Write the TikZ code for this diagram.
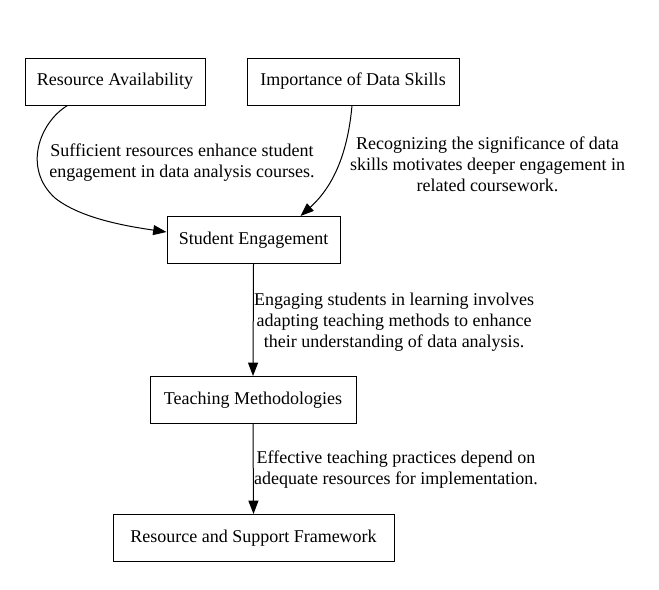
\documentclass[tikz,border=0pt]{standalone}
\usepackage{fontspec}
\setmainfont{Liberation Serif}
\usetikzlibrary{arrows.meta,calc}
\begin{document}
\begin{tikzpicture}[x=0.75pt,y=-0.75pt,
  box/.style={draw,line width=0.75pt,inner sep=0pt,minimum height=47*0.75pt,font=\fontsize{13.5}{15.75}\selectfont},
  lbl/.style={align=center,inner sep=0pt,font=\fontsize{13.5}{15.75}\selectfont},
  edge/.style={line width=0.75pt,-{Triangle[length=10pt,width=7.5pt]}}]
\useasboundingbox (0,0) rectangle (659,589);
\node[box,minimum width=180*0.75pt] (ra) at (115,81.5) {Resource Availability};
\node[box,minimum width=212*0.75pt] (ids) at (353,81.5) {Importance of Data Skills};
\node[box,minimum width=173*0.75pt] (se) at (253.5,240) {Student Engagement};
\node[box,minimum width=206*0.75pt] (tm) at (253,400) {Teaching Methodologies};
\node[box,minimum width=281*0.75pt] (rsf) at (253.5,538) {Resource and Support Framework};
\coordinate (ramid) at (55,198);
\draw[line width=0.75pt] ($(ra.south west)+(43,0)$) .. controls (40,122) and (22,168) .. (ramid);
\draw[edge] (ramid) .. controls (80,218) and (125,226) .. ($(se.west)+(0,-8)$);
\draw[edge] ($(ids.south)+(-1,0)$) .. controls (348,150) and (335,185) .. ($(se.north east)+(-40,0)$);
\draw[edge] (se.south) -- (tm.north);
\draw[edge] (tm.south) -- (rsf.north);
\node[lbl] (l1) at (182,163) {Sufficient resources enhance student\\engagement in data analysis courses.};
\node[lbl] (l2) at (487.5,164) {Recognizing the significance of data\\skills motivates deeper engagement in\\related coursework.};
\node[lbl] (l3) at (394,322) {Engaging students in learning involves\\adapting teaching methods to enhance\\their understanding of data analysis.};
\node[lbl] (l4) at (396,470) {Effective teaching practices depend on\\adequate resources for implementation.};
\end{tikzpicture}
\end{document}
